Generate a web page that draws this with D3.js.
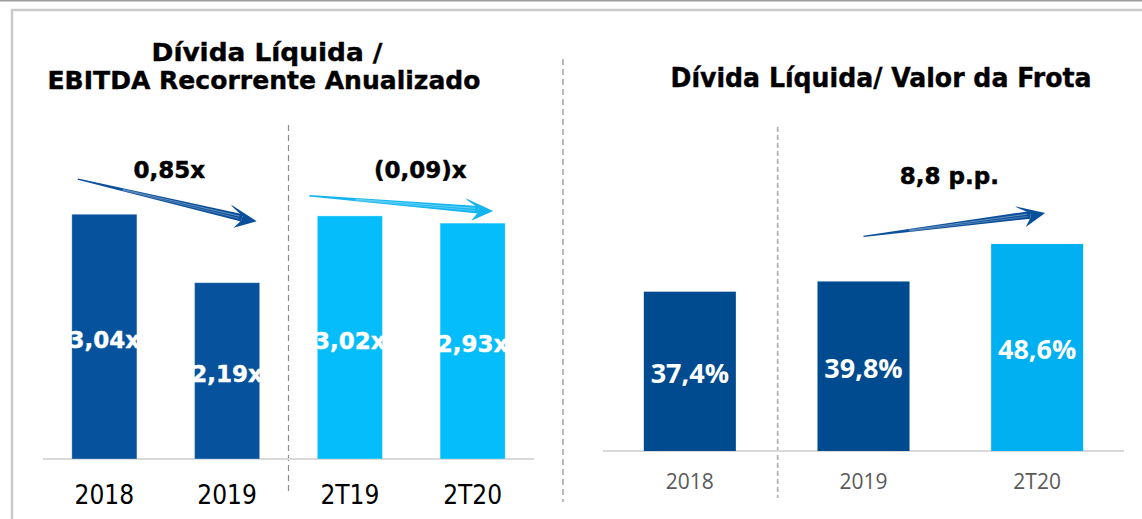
<!DOCTYPE html>
<html>
<head>
<meta charset="utf-8">
<script src="https://cdn.jsdelivr.net/npm/d3@7"></script>
<style>
  html, body { margin: 0; padding: 0; background: #fff; }
  svg { display: block; }
</style>
</head>
<body>
<div id="chart"></div>
<script>
const width = 1142,
    height = 519;

// left chart: Dívida Líquida / EBITDA
const leftCats = ["2018", "2019", "2T19", "2T20"];
const leftValues = [3.04, 2.19, 3.02, 2.93];
const leftLabels = ["3,04x", "2,19x", "3,02x", "2,93x"];
const leftColors = ["#06529c", "#06529c", "#06bdfb", "#06bdfb"];

// right chart: Dívida Líquida / Valor da Frota
const rightCats = ["2018", "2019", "2T20"];
const rightValues = [37.4, 39.8, 48.6];
const rightLabels = ["37,4%", "39,8%", "48,6%"];
const rightColors = ["#004b8f", "#004b8f", "#00b0f0"];

// variation arrows: from bar index -> to bar index
const leftDeltas = [
    { from: 0, to: 1, text: "0,85x", color: "#0a4f99" },
    { from: 2, to: 3, text: "(0,09)x", color: "#12b5f0" }
];
const rightDeltas = [
    { from: 1, to: 2, text: "8,8 p.p.", color: "#0a4f99" }
];

const svg = d3.select("#chart").append("svg")
    .attr("width", width)
    .attr("height", height);

// frame
svg.append("line")
    .attr("x1", 0).attr("x2", width).attr("y1", 0.5).attr("y2", 0.5)
    .attr("stroke", "#9d9d9d").attr("stroke-width", 2);
svg.append("path")
    .attr("d", `M12,${height} L12,10 L${width},10`)
    .attr("fill", "none")
    .attr("stroke", "#cbcbcb").attr("stroke-width", 2.5);

// scales
const xL = d3.scaleBand().domain(leftCats).range([43, 534])
    .paddingInner(0.47).paddingOuter(0.235);
const yL = d3.scaleLinear().domain([0, 3]).range([459, 217.5]);

const xR = d3.scaleBand().domain(rightCats).range([603, 1124])
    .paddingInner(0.47).paddingOuter(0.235);
const yR = d3.scaleLinear().domain([0, 50]).range([451, 238]);

// titles
const titleFont = "'DejaVu Sans', Verdana, sans-serif";
function title(x, y, len, size, txt) {
    svg.append("text")
        .attr("x", x).attr("y", y)
        .attr("text-anchor", "middle")
        .style("font-family", titleFont).style("font-weight", "bold").style("font-size", size + "px")
        .attr("textLength", len).attr("lengthAdjust", "spacingAndGlyphs")
        .attr("stroke", "#000").attr("stroke-width", 0.4)
        .text(txt);
}
title(267, 61, 231, 25, "Dívida Líquida /");
title(264, 89, 433, 25, "EBITDA Recorrente Anualizado");
title(881, 87, 421, 26, "Dívida Líquida/ Valor da Frota");

// separators
function dashed(x, y1, y2, color, dash, w) {
    svg.append("line")
        .attr("x1", x).attr("x2", x).attr("y1", y1).attr("y2", y2)
        .attr("stroke", color).attr("stroke-width", w)
        .attr("stroke-dasharray", dash);
}
const sepL = (xL("2019") + xL.bandwidth() + xL("2T19")) / 2;
const sepR = (xR("2018") + xR.bandwidth() + xR("2019")) / 2 + 1;
dashed(sepL, 125, 495, "#8c8c8c", "6,4", 1.2);
dashed(563, 59, 502, "#8c8c8c", "6,4", 1.2);
dashed(sepR, 127, 498, "#b4b4b4", "5,3", 1.8);

// baselines
svg.append("line")
    .attr("x1", 43).attr("x2", 534).attr("y1", yL(0)).attr("y2", yL(0))
    .attr("stroke", "#d9d9d9").attr("stroke-width", 2);
svg.append("line")
    .attr("x1", 603).attr("x2", 1124).attr("y1", yR(0)).attr("y2", yR(0))
    .attr("stroke", "#d9d9d9").attr("stroke-width", 2);

// left bars
const gL = svg.append("g");
gL.selectAll("rect")
    .data(leftValues)
    .enter()
    .append("rect")
    .attr("x", (d, i) => xL(leftCats[i]))
    .attr("y", d => yL(d))
    .attr("width", xL.bandwidth())
    .attr("height", d => yL(0) - yL(d))
    .attr("fill", (d, i) => leftColors[i])
    .attr("stroke", "#ffffff").attr("stroke-opacity", 0.3).attr("stroke-width", 1);

gL.selectAll("text.val")
    .data(leftValues)
    .enter()
    .append("text")
    .attr("class", "val")
    .attr("x", (d, i) => xL(leftCats[i]) + xL.bandwidth() / 2)
    .attr("y", d => (yL(d) + yL(0)) / 2 + 3)
    .attr("dy", "0.36em")
    .attr("text-anchor", "middle")
    .attr("fill", "#fff")
    .attr("stroke", "#fff").attr("stroke-width", 0.4)
    .style("font-family", titleFont).style("font-weight", "bold").style("font-size", "23px")
    .text((d, i) => leftLabels[i]);

gL.selectAll("text.cat")
    .data(leftCats)
    .enter()
    .append("text")
    .attr("class", "cat")
    .attr("x", d => xL(d) + xL.bandwidth() / 2)
    .attr("y", 504)
    .attr("text-anchor", "middle")
    .attr("fill", "#000")
    .style("font-family", "'DejaVu Sans Condensed', 'DejaVu Sans', sans-serif")
    .style("font-size", "26px")
    .text(d => d);

// right bars
const gR = svg.append("g");
gR.selectAll("rect")
    .data(rightValues)
    .enter()
    .append("rect")
    .attr("x", (d, i) => xR(rightCats[i]))
    .attr("y", d => yR(d))
    .attr("width", xR.bandwidth())
    .attr("height", d => yR(0) - yR(d))
    .attr("fill", (d, i) => rightColors[i]);

gR.selectAll("text.val")
    .data(rightValues)
    .enter()
    .append("text")
    .attr("class", "val")
    .attr("x", (d, i) => xR(rightCats[i]) + xR.bandwidth() / 2)
    .attr("y", d => (yR(d) + yR(0)) / 2 + 2)
    .attr("dy", "0.36em")
    .attr("text-anchor", "middle")
    .attr("fill", "#fff")
    .style("font-family", "'Open Sans', sans-serif").style("font-weight", "bold").style("font-size", "27px")
    .text((d, i) => rightLabels[i]);

gR.selectAll("text.cat")
    .data(rightCats)
    .enter()
    .append("text")
    .attr("class", "cat")
    .attr("x", d => xR(d) + xR.bandwidth() / 2)
    .attr("y", 489)
    .attr("text-anchor", "middle")
    .attr("fill", "#595959")
    .style("font-family", "'Open Sans', sans-serif")
    .style("font-size", "21px")
    .text(d => d);

// swoosh arrow from p0 to p1
function swoosh(g, p0, p1, color) {
    const dx = p1[0] - p0[0], dy = p1[1] - p0[1];
    const len = Math.hypot(dx, dy);
    const u = [dx / len, dy / len];
    const n = [u[1], -u[0]]; // points "up"
    const pt = (a, b) => [p1[0] + a * u[0] + b * n[0], p1[1] + a * u[1] + b * n[1]];
    const body = [
        pt(-len, 0.8), pt(-15, 3.8), pt(-15, -3.8), pt(-len, -0.6)
    ];
    g.append("path")
        .attr("d", d3.line()(body) + "Z")
        .attr("fill", color);
    // light streaks along the body
    [[1.1, 0.55], [-1.2, 0.4]].forEach(([off, op]) => {
        g.append("line")
            .attr("x1", pt(-len * 0.75, off * 0.4)[0]).attr("y1", pt(-len * 0.75, off * 0.4)[1])
            .attr("x2", pt(-18, off)[0]).attr("y2", pt(-18, off)[1])
            .attr("stroke", "#fff").attr("stroke-opacity", op).attr("stroke-width", 0.7);
    });
    const head = [
        pt(0, 0), pt(-29, 10.5), pt(-26, 8), pt(-15, 2), pt(-15, -2.5), pt(-21, -11.5)
    ];
    g.append("path")
        .attr("d", d3.line()(head) + "Z")
        .attr("fill", color);
}

const annFont = "'DejaVu Sans', Verdana, sans-serif";

// left arrows
leftDeltas.forEach((d, k) => {
    let p0, p1;
    if (k === 0) {
        p0 = [xL(leftCats[d.from]) + 6, yL(leftValues[d.from]) - 35];
        p1 = [xL(leftCats[d.to]) + xL.bandwidth() - 3, yL(leftValues[d.from]) + 7];
    } else {
        p0 = [xL(leftCats[d.from]) - 8, yL(leftValues[d.from]) - 20];
        p1 = [xL(leftCats[d.to]) + xL.bandwidth() - 12, yL(leftValues[d.from]) - 5];
    }
    swoosh(gL, p0, p1, d.color);
    const mid = (p0[0] + p1[0]) / 2;
    gL.append("text")
        .attr("x", k === 0 ? mid + 2 : mid + 19)
        .attr("y", 178)
        .attr("text-anchor", "middle")
        .attr("stroke", "#000").attr("stroke-width", 0.5)
        .style("font-family", annFont).style("font-weight", "bold").style("font-size", "23px")
        .text(d.text);
});

// right arrow
rightDeltas.forEach(d => {
    const cFrom = xR(rightCats[d.from]) + xR.bandwidth() / 2;
    const cTo = xR(rightCats[d.to]) + xR.bandwidth() / 2;
    const p0 = [cFrom, yR(rightValues[d.from]) - 45];
    const p1 = [cTo + 8, yR(rightValues[d.to]) - 31];
    swoosh(gR, p0, p1, d.color);
    gR.append("text")
        .attr("x", (p0[0] + p1[0]) / 2 - 5)
        .attr("y", 184)
        .attr("text-anchor", "middle")
        .attr("stroke", "#000").attr("stroke-width", 0.5)
        .style("font-family", annFont).style("font-weight", "bold").style("font-size", "23px")
        .text(d.text);
});
</script>
</body>
</html>
